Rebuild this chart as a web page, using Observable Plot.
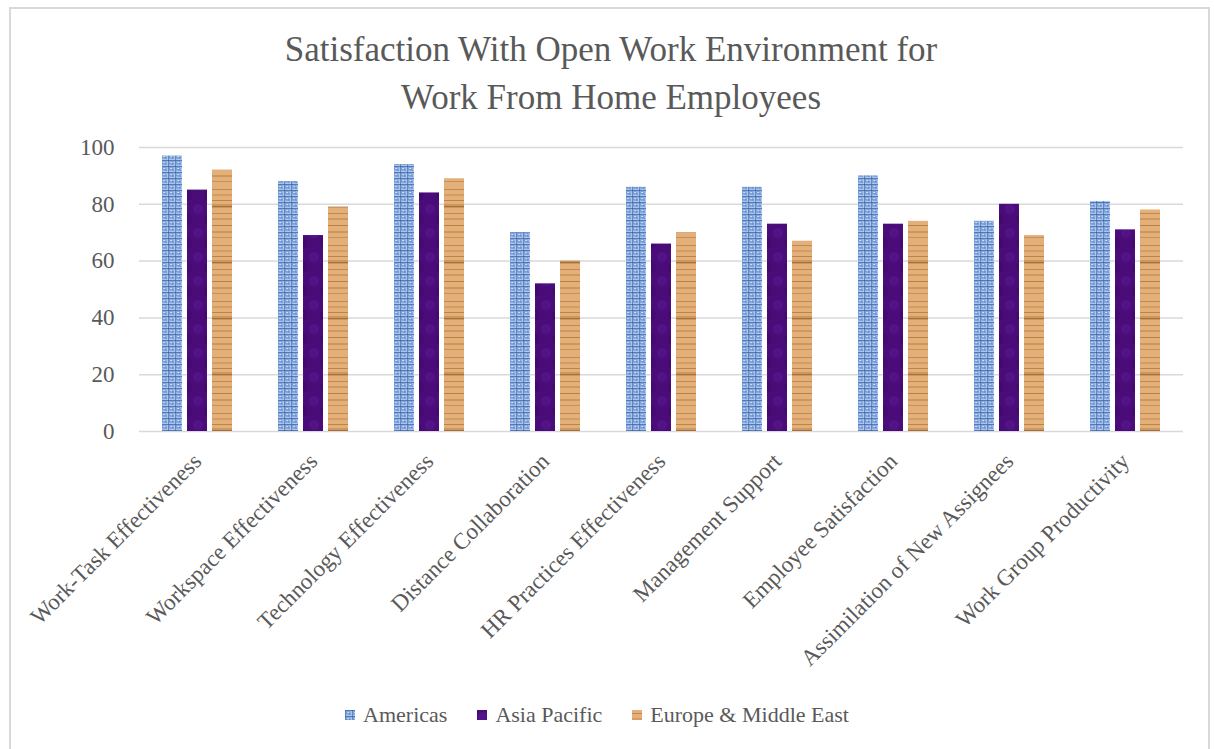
<!DOCTYPE html>
<html>
<head>
<meta charset="utf-8">
<script src="https://cdn.jsdelivr.net/npm/d3@7"></script>
<script src="https://cdn.jsdelivr.net/npm/@observablehq/plot@0.6"></script>
<style>
  html, body { margin: 0; padding: 0; background: #fff; }
  body { width: 1214px; height: 749px; position: relative; overflow: hidden; font-family: "Liberation Serif", serif; color: #595959; }
  #frame { position: absolute; left: 9px; top: 7px; width: 1201px; height: 760px; border: 2px solid #d9d9d9; box-sizing: border-box; }
  #title { position: absolute; left: 0; top: 26px; width: 1222px; text-align: center; font-family: "Liberation Serif", serif; font-size: 35px; line-height: 48px; color: #595959; }
  #chart { position: absolute; left: 0; top: 130px; }
  #legend { position: absolute; left: -10px; top: 702px; width: 1214px; display: flex; justify-content: center; gap: 30px; font-family: "Liberation Serif", serif; font-size: 22px; color: #595959; }
  #legend .item { display: flex; align-items: center; gap: 8px; }
  #legend span { font-family: "Liberation Serif", serif; }
  #legend svg { display: block; }
</style>
</head>
<body>
<svg width="0" height="0" style="position:absolute">
  <defs>
    <pattern id="pat-amer" patternUnits="userSpaceOnUse" width="7" height="6">
      <rect width="7" height="6" fill="#a9c6ef"/>
      <rect x="1.2" y="1.4" width="4.2" height="3.2" fill="#7199d7"/>
      <rect x="0" y="0" width="7" height="1.1" fill="#35599f" opacity="0.7"/>
      <rect x="0" y="0" width="1.1" height="6" fill="#2f5399" opacity="0.55"/>
      <rect x="2.2" y="2" width="2" height="1.1" fill="#e1ecfc" opacity="0.85"/>
      <rect x="4.6" y="3.6" width="1.2" height="1" fill="#24478c" opacity="0.6"/>
    </pattern>
    <pattern id="pat-asia" patternUnits="userSpaceOnUse" width="24" height="24">
      <rect width="24" height="24" fill="#4a0c78"/>
      <circle cx="6" cy="7" r="5" fill="#5b1891" opacity="0.55"/>
      <circle cx="18" cy="17" r="6" fill="#3c0865" opacity="0.55"/>
      <circle cx="17" cy="4" r="3" fill="#5a1a8c" opacity="0.45"/>
    </pattern>
    <pattern id="pat-eur" patternUnits="userSpaceOnUse" width="20" height="56">
      <rect width="20" height="56" fill="#e4b07a"/>
      <rect y="3" width="20" height="1" fill="#b7783e" opacity="0.7"/>
      <rect y="8" width="20" height="2" fill="#cf955b" opacity="0.7"/>
      <rect y="14" width="20" height="1" fill="#b06f36" opacity="0.7"/>
      <rect y="18" width="20" height="4" fill="#b57739" opacity="0.45"/>
      <rect y="20" width="20" height="1" fill="#8f5424" opacity="0.6"/>
      <rect y="27" width="20" height="1" fill="#b7783e" opacity="0.7"/>
      <rect y="32" width="20" height="2" fill="#c98e53" opacity="0.7"/>
      <rect y="39" width="20" height="1" fill="#a96a32" opacity="0.7"/>
      <rect y="45" width="20" height="2" fill="#c08449" opacity="0.6"/>
      <rect y="51" width="20" height="1" fill="#b7783e" opacity="0.6"/>
    </pattern>
  </defs>
</svg>
<div id="frame"></div>
<div id="title">Satisfaction With Open Work Environment for<br>Work From Home Employees</div>
<div id="chart"></div>
<div id="legend"></div>
<script>
const categories = [
  "Work-Task Effectiveness",
  "Workspace Effectiveness",
  "Technology Effectiveness",
  "Distance Collaboration",
  "HR Practices Effectiveness",
  "Management Support",
  "Employee Satisfaction",
  "Assimilation of New Assignees",
  "Work Group Productivity"
];
const regions = ["Americas", "Asia Pacific", "Europe & Middle East"];
const americas    = [97, 88, 94, 70, 86, 86, 90, 74, 81];
const asiaPacific = [85, 69, 84, 52, 66, 73, 73, 80, 71];
const europeME    = [92, 79, 89, 60, 70, 67, 74, 69, 78];
const yTicks = [0, 20, 40, 60, 80, 100];

const regionFills = ["url(#pat-amer)", "url(#pat-asia)", "url(#pat-eur)"];
const series = [americas, asiaPacific, europeME];
const data = categories.flatMap((c, i) =>
  regions.map((r, j) => ({category: c, region: r, value: series[j][i]}))
);

const chart = Plot.plot({
  width: 1214,
  height: 561,
  marginLeft: 139,
  marginRight: 31,
  marginTop: 17,
  marginBottom: 260,
  style: {fontFamily: "'Liberation Serif', serif", color: "#595959", background: "transparent"},
  fx: {domain: categories, padding: 0, label: null},
  x: {domain: regions, paddingInner: 0.2, paddingOuter: 0.92, axis: null},
  y: {domain: [0, 100], label: null},
  color: {domain: regions, range: regionFills},
  marks: [
    Plot.gridY(yTicks, {stroke: "#d9d9d9", strokeOpacity: 1, strokeWidth: 1.5}),
    Plot.axisY(yTicks, {tickSize: 0, tickPadding: 25, fontSize: 23, label: null}),
    Plot.axisFx({anchor: "bottom", tickRotate: -45, tickSize: 0, tickPadding: 26, fontSize: 23, label: null}),
    Plot.barY(data, {fx: "category", x: "region", y: "value", fill: "region"})
  ]
});
document.getElementById("chart").appendChild(chart);

const legend = document.getElementById("legend");
regions.forEach((r, j) => {
  const item = document.createElement("div");
  item.className = "item";
  item.innerHTML = `<svg width="10" height="10"><rect width="10" height="10" fill="${regionFills[j]}"/></svg><span>${r}</span>`;
  legend.appendChild(item);
});
</script>
</body>
</html>
